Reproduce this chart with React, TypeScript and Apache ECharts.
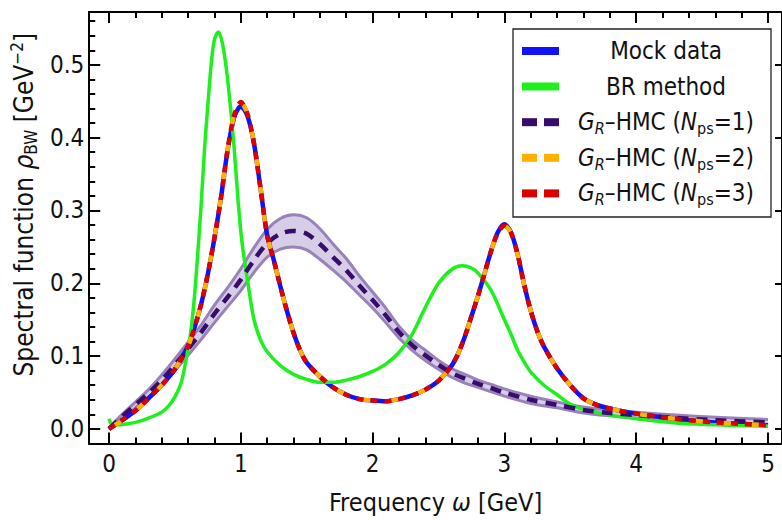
import React, { useEffect, useRef } from "react";
import * as echarts from "echarts";

const FONT = "'DejaVu Sans Condensed', 'DejaVu Sans', sans-serif";

// ---- ticks ----
const xMajorTicks = [0, 1, 2, 3, 4, 5];
const xMinorTicks = [0.2, 0.4, 0.6, 0.8, 1.2, 1.4, 1.6, 1.8, 2.2, 2.4, 2.6, 2.8, 3.2, 3.4, 3.6, 3.8, 4.2, 4.4, 4.6, 4.8];
const yMajorTicks = [0, 0.1, 0.2, 0.3, 0.4, 0.5];
const yMinorTicks = [0.02, 0.04, 0.06, 0.08, 0.12, 0.14, 0.16, 0.18, 0.22, 0.24, 0.26, 0.28, 0.32, 0.34, 0.36, 0.38, 0.42, 0.44, 0.46, 0.48, 0.52, 0.54, 0.56];

// ---- Mock data & G_R-HMC (N_ps = 2, 3) ----
const mockOmega = [0, 0.1, 0.2, 0.3, 0.4, 0.5, 0.6, 0.65, 0.7, 0.75, 0.8, 0.85, 0.9, 0.95, 1.0, 1.05, 1.1, 1.15, 1.2, 1.25, 1.3, 1.35, 1.4, 1.45, 1.5, 1.6, 1.7, 1.8, 1.9, 2.0, 2.1, 2.2, 2.3, 2.4, 2.5, 2.6, 2.65, 2.7, 2.75, 2.8, 2.85, 2.9, 2.95, 3.0, 3.05, 3.1, 3.15, 3.2, 3.25, 3.3, 3.4, 3.5, 3.6, 3.7, 3.8, 3.9, 4.0, 4.2, 4.4, 4.6, 4.8, 5.0];
const mockRho = [0, 0.012, 0.025, 0.042, 0.06, 0.082, 0.114, 0.14, 0.172, 0.213, 0.262, 0.318, 0.383, 0.428, 0.443, 0.43, 0.392, 0.33, 0.266, 0.232, 0.196, 0.162, 0.132, 0.108, 0.091, 0.072, 0.057, 0.047, 0.041, 0.039, 0.038, 0.041, 0.046, 0.054, 0.066, 0.087, 0.104, 0.127, 0.155, 0.183, 0.214, 0.245, 0.27, 0.281, 0.27, 0.24, 0.198, 0.162, 0.134, 0.113, 0.083, 0.06, 0.042, 0.033, 0.028, 0.024, 0.021, 0.016, 0.012, 0.009, 0.007, 0.005];
const hmc2Rho = [0, 0.012, 0.025, 0.042, 0.06, 0.082, 0.114, 0.14, 0.172, 0.213, 0.262, 0.318, 0.384, 0.431, 0.449, 0.433, 0.392, 0.33, 0.266, 0.232, 0.196, 0.162, 0.132, 0.108, 0.091, 0.072, 0.057, 0.047, 0.041, 0.039, 0.038, 0.041, 0.046, 0.054, 0.066, 0.087, 0.104, 0.127, 0.155, 0.183, 0.214, 0.245, 0.269, 0.279, 0.269, 0.24, 0.198, 0.162, 0.134, 0.113, 0.083, 0.06, 0.042, 0.033, 0.028, 0.024, 0.021, 0.016, 0.012, 0.009, 0.007, 0.005];
const hmc3Rho = [0, 0.012, 0.025, 0.042, 0.06, 0.082, 0.114, 0.14, 0.172, 0.213, 0.262, 0.318, 0.384, 0.431, 0.449, 0.433, 0.392, 0.33, 0.266, 0.232, 0.196, 0.162, 0.132, 0.108, 0.091, 0.072, 0.057, 0.047, 0.041, 0.039, 0.038, 0.041, 0.046, 0.054, 0.066, 0.087, 0.104, 0.127, 0.155, 0.183, 0.214, 0.245, 0.269, 0.279, 0.269, 0.24, 0.198, 0.162, 0.134, 0.113, 0.083, 0.06, 0.042, 0.033, 0.028, 0.024, 0.021, 0.016, 0.012, 0.009, 0.007, 0.005];

// ---- BR method ----
const brOmega = [0, 0.03, 0.1, 0.2, 0.3, 0.4, 0.45, 0.5, 0.55, 0.6, 0.625, 0.65, 0.675, 0.7, 0.725, 0.75, 0.775, 0.8, 0.83, 0.86, 0.89, 0.92, 0.95, 0.98, 1.01, 1.05, 1.1, 1.15, 1.2, 1.3, 1.4, 1.5, 1.6, 1.7, 1.8, 1.9, 2.0, 2.1, 2.2, 2.3, 2.4, 2.5, 2.6, 2.68, 2.75, 2.8, 2.9, 3.0, 3.05, 3.1, 3.15, 3.2, 3.3, 3.4, 3.5, 3.6, 3.7, 3.8, 4.0, 4.2, 4.4, 4.7, 5.0];
const brRho = [0.014, 0.005, 0.006, 0.009, 0.015, 0.023, 0.031, 0.044, 0.065, 0.11, 0.14, 0.185, 0.245, 0.31, 0.385, 0.445, 0.5, 0.535, 0.545, 0.53, 0.495, 0.445, 0.385, 0.312, 0.255, 0.205, 0.15, 0.122, 0.106, 0.087, 0.075, 0.068, 0.064, 0.064, 0.067, 0.072, 0.079, 0.089, 0.105, 0.13, 0.167, 0.2, 0.219, 0.224, 0.221, 0.214, 0.19, 0.15, 0.13, 0.108, 0.092, 0.078, 0.06, 0.047, 0.034, 0.027, 0.023, 0.019, 0.014, 0.01, 0.007, 0.005, 0.004];

// ---- G_R-HMC (N_ps = 1) with uncertainty band ----
const hmc1Omega = [0, 0.1, 0.2, 0.3, 0.4, 0.5, 0.6, 0.7, 0.8, 0.9, 1.0, 1.1, 1.2, 1.3, 1.4, 1.5, 1.6, 1.7, 1.8, 1.9, 2.0, 2.1, 2.2, 2.3, 2.4, 2.5, 2.6, 2.7, 2.8, 2.9, 3.0, 3.2, 3.4, 3.6, 3.8, 4.0, 4.3, 4.6, 5.0];
const hmc1Rho = [0, 0.017, 0.033, 0.049, 0.067, 0.088, 0.11, 0.133, 0.158, 0.181, 0.205, 0.232, 0.255, 0.268, 0.272, 0.268, 0.254, 0.236, 0.218, 0.197, 0.177, 0.156, 0.133, 0.115, 0.101, 0.088, 0.077, 0.069, 0.062, 0.056, 0.05, 0.04, 0.033, 0.026, 0.022, 0.019, 0.015, 0.012, 0.009];
const hmc1Upper = [0.002, 0.02, 0.037, 0.054, 0.074, 0.096, 0.119, 0.143, 0.17, 0.194, 0.22, 0.249, 0.274, 0.289, 0.294, 0.29, 0.275, 0.254, 0.234, 0.21, 0.188, 0.166, 0.141, 0.122, 0.108, 0.094, 0.083, 0.075, 0.067, 0.061, 0.055, 0.045, 0.037, 0.03, 0.026, 0.023, 0.019, 0.016, 0.013];
const hmc1Lower = [0, 0.014, 0.029, 0.044, 0.06, 0.08, 0.101, 0.123, 0.146, 0.168, 0.19, 0.215, 0.236, 0.247, 0.25, 0.246, 0.233, 0.218, 0.202, 0.184, 0.166, 0.146, 0.125, 0.108, 0.094, 0.082, 0.071, 0.063, 0.057, 0.051, 0.045, 0.035, 0.029, 0.022, 0.018, 0.015, 0.011, 0.008, 0.005];

// ---- colours ----
const C_MOCK = "#1212f6";
const C_BR = "#1ef01e";
const C_HMC1 = "#380c6b";
const C_HMC2 = "#ffb000";
const C_HMC3 = "#dc0000";
const C_BAND_FILL = "#d7cde6";
const C_BAND_EDGE = "#9782ba";

const legendEntries = [
  { text: "{n|Mock data}", color: C_MOCK, dashed: false },
  { text: "{n|BR method}", color: C_BR, dashed: false },
  { text: "{i|G}{isub|R}{n|\u2013HMC (}{i|N}{sub|ps}{n|=1)}", color: C_HMC1, dashed: true },
  { text: "{i|G}{isub|R}{n|\u2013HMC (}{i|N}{sub|ps}{n|=2)}", color: C_HMC2, dashed: true },
  { text: "{i|G}{isub|R}{n|\u2013HMC (}{i|N}{sub|ps}{n|=3)}", color: C_HMC3, dashed: true },
];

const pairs = (xs: number[], ys: number[]) => xs.map((x, i) => [x, ys[i]]);

const X_MIN = -0.15;
const X_MAX = 5.106;
const Y_MIN = -0.02;
const Y_MAX = 0.5726;

function makeX(position: string, ticks: number[], len: number, labels: boolean, extra: any = {}) {
  return {
    type: "value",
    position,
    min: X_MIN,
    max: X_MAX,
    splitLine: { show: false },
    axisLine: { show: true, onZero: false, lineStyle: { color: "#000", width: 2 } },
    axisTick: { show: true, inside: true, length: len, customValues: ticks, lineStyle: { color: "#000", width: 2 } },
    axisLabel: labels
      ? { show: true, customValues: ticks, margin: 8, fontSize: 24, fontFamily: FONT, color: "#111" }
      : { show: false },
    ...extra,
  };
}

function makeY(position: string, ticks: number[], len: number, labels: boolean, extra: any = {}) {
  return {
    type: "value",
    position,
    min: Y_MIN,
    max: Y_MAX,
    splitLine: { show: false },
    axisLine: { show: true, onZero: false, lineStyle: { color: "#000", width: 2 } },
    axisTick: { show: true, inside: true, length: len, customValues: ticks, lineStyle: { color: "#000", width: 2 } },
    axisLabel: labels
      ? {
          show: true,
          customValues: ticks,
          margin: 5,
          fontSize: 24,
          fontFamily: FONT,
          color: "#111",
          formatter: (v: number) => v.toFixed(1),
        }
      : { show: false },
    ...extra,
  };
}

const xNameRich = {
  n: { fontSize: 25, fontFamily: FONT, color: "#111", lineHeight: 30 },
  i: { fontSize: 25, fontFamily: FONT, color: "#111", fontStyle: "italic", lineHeight: 30 },
};

const yNameRich = {
  n: { fontSize: 26, fontFamily: FONT, color: "#111", lineHeight: 31 },
  i: { fontSize: 26, fontFamily: FONT, color: "#111", fontStyle: "italic", lineHeight: 31 },
  sub: { fontSize: 17, fontFamily: FONT, color: "#111", verticalAlign: "bottom", lineHeight: 31 },
  sup: { fontSize: 17, fontFamily: FONT, color: "#111", verticalAlign: "top", lineHeight: 31 },
};

const legendRich = {
  n: { fontSize: 24, fontFamily: FONT, fill: "#111", lineHeight: 29 },
  i: { fontSize: 24, fontFamily: FONT, fill: "#111", fontStyle: "italic", lineHeight: 29 },
  isub: { fontSize: 16, fontFamily: FONT, fill: "#111", fontStyle: "italic", verticalAlign: "bottom" },
  sub: { fontSize: 16, fontFamily: FONT, fill: "#111", verticalAlign: "bottom" },
};

function buildLegend() {
  const children: any[] = [
    {
      type: "rect",
      z: 100,
      shape: { x: 513, y: 29, width: 258, height: 188 },
      style: { fill: "#fff", stroke: "#222", lineWidth: 1.3 },
    },
  ];
  const rowY0 = 51;
  const rowStep = 35.6;
  legendEntries.forEach((e, k) => {
    const cy = rowY0 + k * rowStep;
    if (e.dashed) {
      children.push({ type: "rect", z: 101, shape: { x: 522, y: cy - 4, width: 15, height: 8 }, style: { fill: e.color } });
      children.push({ type: "rect", z: 101, shape: { x: 544, y: cy - 4, width: 15, height: 8 }, style: { fill: e.color } });
    } else {
      children.push({ type: "rect", z: 101, shape: { x: 522, y: cy - 4, width: 37, height: 8 }, style: { fill: e.color } });
    }
    children.push({
      type: "text",
      z: 101,
      x: 666,
      y: cy,
      style: {
        text: e.text,
        rich: legendRich,
        align: "center",
        verticalAlign: "middle",
        fontFamily: FONT,
        fontSize: 24,
        fill: "#111",
      },
    });
  });
  return children;
}

export default function App() {
  const ref = useRef<HTMLDivElement>(null);
  useEffect(() => {
    if (!ref.current) return;
    document.body.style.margin = "0";
    document.body.style.overflow = "hidden";
    const chart = echarts.init(ref.current, undefined, { renderer: "svg" });
    const line = {
      type: "line",
      symbol: "none",
      showSymbol: false,
      smooth: 0.3,
      xAxisIndex: 0,
      yAxisIndex: 0,
      silent: true,
    };
    chart.setOption({
      animation: false,
      backgroundColor: "#fff",
      grid: { left: 87, top: 12, width: 697, height: 435, containLabel: false },
      xAxis: [
        makeX("bottom", xMajorTicks, 11, true, {
          name: "{n|Frequency }{i|\u03c9}{n| [GeV]}",
          nameLocation: "middle",
          nameGap: 44,
          nameTextStyle: { fontSize: 25, fontFamily: FONT, color: "#111", rich: xNameRich },
        }),
        makeX("bottom", xMinorTicks, 6, false),
        makeX("top", xMajorTicks, 11, false),
        makeX("top", xMinorTicks, 6, false),
      ],
      yAxis: [
        makeY("left", yMajorTicks, 11, true, {
          name: "{n|Spectral function }{i|\u03c1}{sub|BW}{n| [GeV}{sup|\u22122}{n|]}",
          nameLocation: "middle",
          nameRotate: 90,
          nameGap: 44,
          nameTextStyle: { fontSize: 26, fontFamily: FONT, color: "#111", rich: yNameRich, padding: [0, 0, 0, 46] },
        }),
        makeY("left", yMinorTicks, 6, false),
        makeY("right", yMajorTicks, 7, false),
      ],
      graphic: buildLegend(),
      series: [
        {
          type: "custom",
          name: "band",
          xAxisIndex: 0,
          yAxisIndex: 0,
          silent: true,
          z: 1,
          data: [[0, 0]],
          renderItem: (_params: any, api: any) => {
            const up = hmc1Omega.map((x, i) => api.coord([x, hmc1Upper[i]]));
            const lo = hmc1Omega.map((x, i) => api.coord([x, hmc1Lower[i]]));
            return {
              type: "group",
              children: [
                {
                  type: "polygon",
                  shape: { points: up.concat(lo.slice().reverse()) },
                  style: { fill: C_BAND_FILL, stroke: "none" },
                },
                {
                  type: "polyline",
                  shape: { points: up, smooth: 0.3 },
                  style: { stroke: C_BAND_EDGE, lineWidth: 3, fill: "none" },
                },
                {
                  type: "polyline",
                  shape: { points: lo, smooth: 0.3 },
                  style: { stroke: C_BAND_EDGE, lineWidth: 3, fill: "none" },
                },
              ],
            };
          },
        },
        {
          ...line,
          name: "Mock data",
          data: pairs(mockOmega, mockRho),
          lineStyle: { color: C_MOCK, width: 4.5 },
          z: 2,
        },
        {
          ...line,
          name: "BR method",
          data: pairs(brOmega, brRho),
          lineStyle: { color: C_BR, width: 3.5 },
          z: 3,
        },
        {
          ...line,
          name: "G_R-HMC (N_ps=1)",
          data: pairs(hmc1Omega, hmc1Rho),
          lineStyle: { color: C_HMC1, width: 4.5, type: [11, 8], cap: "butt" },
          z: 4,
        },
        {
          ...line,
          name: "G_R-HMC (N_ps=2)",
          data: pairs(mockOmega, hmc2Rho),
          lineStyle: { color: C_HMC2, width: 4.5, type: [7, 21], dashOffset: 21, cap: "butt" },
          z: 5,
        },
        {
          ...line,
          name: "G_R-HMC (N_ps=3)",
          data: pairs(mockOmega, hmc3Rho),
          lineStyle: { color: C_HMC3, width: 4.5, type: [7, 7], cap: "butt" },
          z: 6,
        },
      ],
    });
    return () => chart.dispose();
  }, []);
  return (
    <div
      ref={ref}
      style={{ position: "fixed", left: 0, top: 0, width: 782, height: 520, background: "#fff" }}
    />
  );
}
